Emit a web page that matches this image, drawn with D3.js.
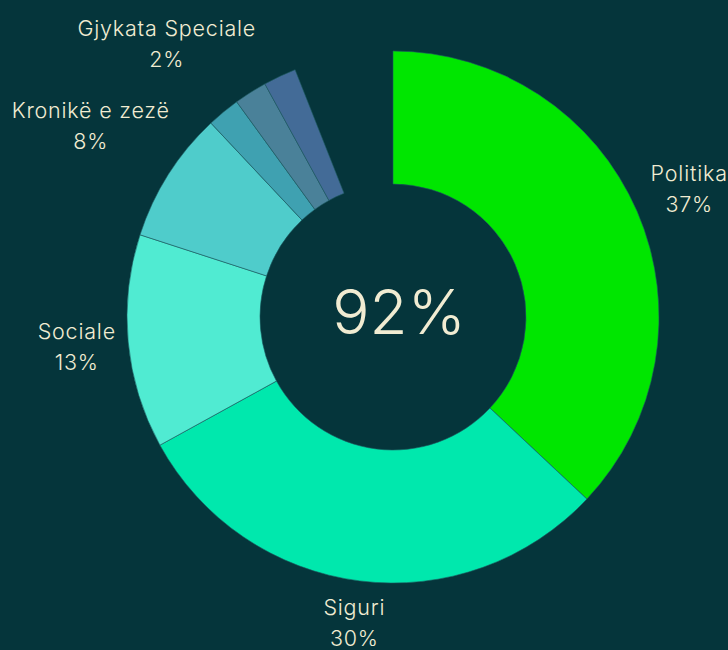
<!DOCTYPE html>
<html>
<head>
<meta charset="utf-8">
<script src="https://cdn.jsdelivr.net/npm/d3@7"></script>
<style>
  html, body { margin: 0; padding: 0; background: #05353b; }
  svg text { font-family: Inter, "Noto Sans", sans-serif; fill: #f1ecd2; }
</style>
</head>
<body>
<div id="chart"></div>
<script>
// categories and shares (percent of all articles)
var categories = ["Politika", "Siguri", "Sociale", "Kronikë e zezë", "Gjykata Speciale", "", ""]
var shares = [37, 30, 13, 8, 2, 2, 2]
var sliceColors = ["#00e600", "#00e8ad", "#50ebd2", "#4fcccb", "#3fa1b1", "#4a8199", "#436b97"]
var centerLabel = "92%"

var width = 728
var height = 650
var cx = 393, cy = 317
var outerR = 266, innerR = 133
var labelGap = 276

var svg = d3.select("#chart")
  .append("svg")
  .attr("width", width)
  .attr("height", height)

var g = svg.append("g")
  .attr("transform", "translate(" + cx + "," + cy + ")")

var total = d3.sum(shares)
var pie = d3.pie()
  .sort(null)
  .value(function (d) { return d })
  .startAngle(0)
  .endAngle(2 * Math.PI * total / 100)

var arc = d3.arc()
  .innerRadius(innerR)
  .outerRadius(outerR)

var arcs = pie(shares)

g.selectAll("path.slice")
  .data(arcs)
  .enter()
  .append("path")
  .attr("class", "slice")
  .attr("d", arc)
  .attr("fill", function (d, i) { return sliceColors[i] })
  .attr("stroke", "#1d5a60")
  .attr("stroke-width", 0.6)

// labels: name + share, pushed out so the box edge sits just outside the ring
arcs.forEach(function (d, i) {
  if (!categories[i]) return
  var a = (d.startAngle + d.endAngle) / 2
  var lab = g.append("text")
    .attr("text-anchor", "middle")
    .attr("font-size", "21.5px")
    .attr("font-weight", 300)
    .attr("letter-spacing", "0.8px")
  lab.append("tspan").attr("x", 0).attr("dy", 0).text(categories[i])
  lab.append("tspan").attr("x", 0).attr("dy", 31).text(shares[i] + "%")
  var bb = lab.node().getBBox()
  var sx = Math.sin(a), sy = -Math.cos(a)
  var dist = labelGap + bb.width / 2 * Math.abs(sx) + bb.height / 2 * Math.abs(sy)
  var tx = dist * sx - (bb.x + bb.width / 2)
  var ty = dist * sy - (bb.y + bb.height / 2)
  lab.attr("transform", "translate(" + tx + "," + ty + ")")
})

g.append("text")
  .attr("text-anchor", "middle")
  .attr("x", 6)
  .attr("y", 17)
  .attr("font-size", "62px")
  .attr("font-weight", 300)
  .text(centerLabel)
</script>
</body>
</html>
